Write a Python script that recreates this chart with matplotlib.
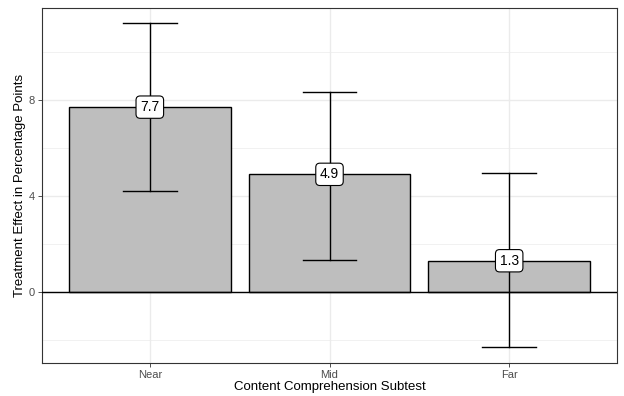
import matplotlib

matplotlib.use("Agg")
import matplotlib.pyplot as plt
import numpy as np

plt.rcParams["font.family"] = ["Liberation Sans", "DejaVu Sans"]

# -----------------------------
# Data
# -----------------------------
subtests = ["Near", "Mid", "Far"]
effects = [7.7, 4.9, 1.3]
ci_low = [4.2, 1.35, -2.3]
ci_high = [11.2, 8.35, 4.95]

x = np.arange(1, len(subtests) + 1)

# -----------------------------
# Figure
# -----------------------------
fig = plt.figure(figsize=(6.24, 3.96), dpi=100)
ax = fig.add_axes([42 / 624, 33 / 396, 575 / 624, 355 / 396])

# grid
for v in [-2, 2, 6, 10]:
    ax.axhline(v, color="#ebebeb", lw=0.5, zorder=0)
for v in [0, 4, 8]:
    ax.axhline(v, color="#ebebeb", lw=1.0, zorder=0)
for v in x:
    ax.axvline(v, color="#ebebeb", lw=1.0, zorder=0)

ax.bar(x, effects, width=0.9, color="#bebebe", edgecolor="black",
       linewidth=1.0, zorder=2)
ax.axhline(0, color="black", lw=1.0, zorder=3)

for xi, lo, hi in zip(x, ci_low, ci_high):
    ax.plot([xi, xi], [lo, hi], color="black", lw=1.0, zorder=4)
    ax.plot([xi - 0.15, xi + 0.15], [lo, lo], color="black", lw=1.0, zorder=4)
    ax.plot([xi - 0.15, xi + 0.15], [hi, hi], color="black", lw=1.0, zorder=4)

for xi, e in zip(x, effects):
    ax.text(xi, e, f"{e:.1f}", ha="center", va="center", fontsize=10,
            zorder=5,
            bbox=dict(boxstyle="round,pad=0.3,rounding_size=0.3",
                      fc="white", ec="black", lw=0.8))

ax.set_xlim(0.4, 3.6)
ax.set_ylim(-2.96, 11.83)
ax.set_xticks(x)
ax.set_xticklabels(subtests)
ax.set_yticks([0, 4, 8])
ax.tick_params(axis="both", labelsize=8, labelcolor="#4d4d4d",
               color="#333333", length=3, width=0.6, pad=2)

for s in ax.spines.values():
    s.set_color("#333333")
    s.set_linewidth(0.8)

ax.set_xlabel("Content Comprehension Subtest", fontsize=9.5, labelpad=1)
ax.set_ylabel("Treatment Effect in Percentage Points", fontsize=9.5, labelpad=2)

plt.savefig("out.png", dpi=100)
plt.close()
